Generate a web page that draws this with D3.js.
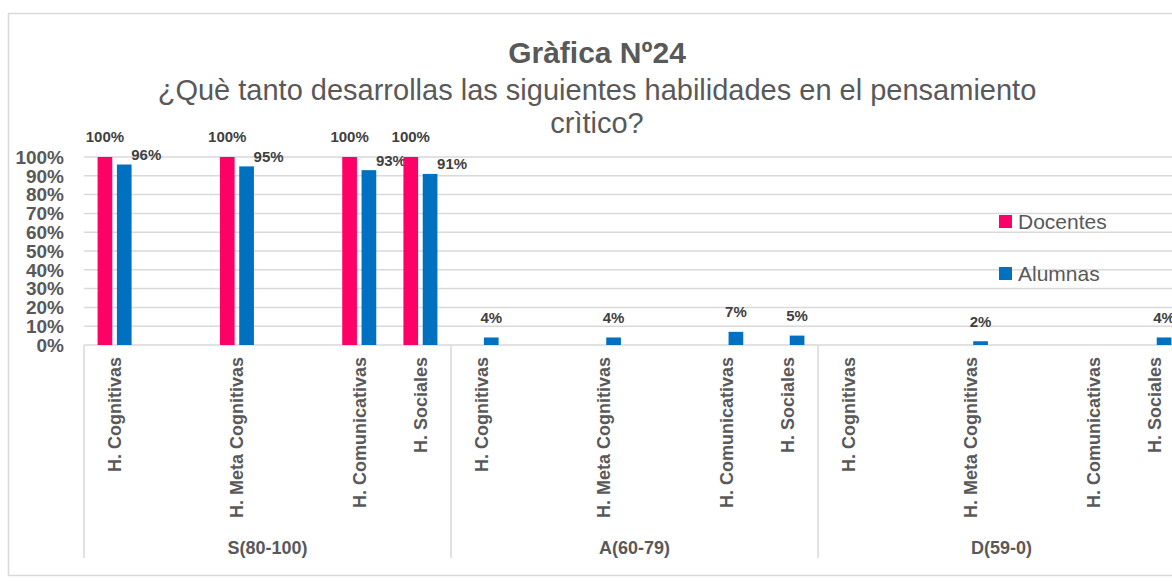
<!DOCTYPE html>
<html lang="es">
<head>
<meta charset="utf-8">
<title>Gràfica Nº24</title>
<script src="https://cdn.jsdelivr.net/npm/d3@7"></script>
<style>
  body { margin: 0; background: #fff; }
  text { font-family: "Liberation Sans", Arial, sans-serif; }
</style>
</head>
<body>
<div class="grafico"></div>
<script>
/*Datos de la gráfica*/
const grupos = ["S(80-100)", "A(60-79)", "D(59-0)"];
// "" = fila vacía en la tabla original (deja un hueco en el eje)
const habilidades = ["H. Cognitivas", "", "H. Meta Cognitivas", "", "H. Comunicativas", "H. Sociales"];
const series = ["Docentes", "Alumnas"];
const docentes = [1, 1, 1, 1, 0, 0, 0, 0, 0, 0, 0, 0];
const alumnas = [0.96, 0.95, 0.93, 0.91, 0.04, 0.04, 0.07, 0.05, 0, 0.02, 0, 0.04];
const yTicks = [0, 0.1, 0.2, 0.3, 0.4, 0.5, 0.6, 0.7, 0.8, 0.9, 1];

const titulo = "Gràfica Nº24";
const subtitulo = ["¿Què tanto desarrollas las siguientes habilidades en el pensamiento", "crìtico?"];

/*Medidas*/
const w = 1172;
const h = 582;
const mIzq = 84, mDer = 1185, yArriba = 157, yAbajo = 345;

const colores = ["#FF0066", "#0070C0"];
const gris = "#595959";
const linea = "#d9d9d9";

/*Filas: una por habilidad real*/
const filas = [];
let k = 0;
grupos.forEach((g, gi) => habilidades.forEach((hab, hi) => {
  if (hab === "") return;
  filas.push({ slot: `${gi}|${hi}`, grupo: g, habilidad: hab, Docentes: docentes[k], Alumnas: alumnas[k] });
  k++;
}));

const slots = grupos.flatMap((g, gi) => habilidades.map((hab, hi) => `${gi}|${hi}`));

/*Escalas*/
const x = d3.scaleBand().domain(slots).range([mIzq, mDer])
  .paddingInner(0.444).paddingOuter(0.222);
const xSerie = d3.scaleBand().domain(series).range([0, x.bandwidth()]).paddingInner(0.24);
const xGrupo = d3.scaleBand().domain(grupos).range([mIzq, mDer]);
const y = d3.scaleLinear().domain([0, 1]).range([yAbajo, yArriba]);
const color = d3.scaleOrdinal().domain(series).range(colores);
const pct = d3.format(".0%");

const svg = d3.select('.grafico')
  .append('svg')
  .attr('width', w)
  .attr('height', h)
  .style('display', 'block');

/*Marco*/
svg.append('rect')
  .attr('x', 8.5).attr('y', 13.5)
  .attr('width', 1200).attr('height', 562)
  .attr('fill', 'none')
  .attr('stroke', linea)
  .attr('stroke-width', 1.5);

/*Títulos*/
svg.append('text')
  .attr('x', 597).attr('y', 63)
  .attr('text-anchor', 'middle')
  .attr('font-size', 30).attr('font-weight', 'bold')
  .attr('fill', gris)
  .text(titulo);

svg.append('g').selectAll('text')
  .data(subtitulo)
  .join('text')
  .attr('x', 597)
  .attr('y', (d, i) => 100 + i * 33)
  .attr('text-anchor', 'middle')
  .attr('font-size', 29)
  .attr('fill', gris)
  .text(d => d);

/*Líneas de cuadrícula y eje Y*/
svg.append('g').selectAll('line')
  .data(yTicks)
  .join('line')
  .attr('x1', mIzq).attr('x2', mDer)
  .attr('y1', d => y(d)).attr('y2', d => y(d))
  .attr('stroke', linea)
  .attr('stroke-width', 1.5);

svg.append('g').selectAll('text')
  .data(yTicks)
  .join('text')
  .attr('x', 64)
  .attr('y', d => y(d))
  .attr('dy', '0.36em')
  .attr('text-anchor', 'end')
  .attr('font-size', 19).attr('font-weight', 'bold')
  .attr('fill', gris)
  .text(d => pct(d));

/*Barras*/
const barras = svg.append('g').selectAll('g')
  .data(filas)
  .join('g')
  .attr('transform', d => `translate(${x(d.slot)},0)`);

barras.selectAll('rect')
  .data(d => series.map(s => ({ serie: s, valor: d[s] })).filter(e => e.valor > 0))
  .join('rect')
  .attr('x', d => xSerie(d.serie))
  .attr('y', d => y(d.valor))
  .attr('width', xSerie.bandwidth())
  .attr('height', d => yAbajo - y(d.valor))
  .attr('fill', d => color(d.serie));

/*Etiquetas de datos (si chocan con la de Docentes, se corren a la derecha)*/
barras.selectAll('text')
  .data(d => series.map(s => ({ serie: s, valor: d[s], choca: s === "Alumnas" && d.Docentes > 0 }))
    .filter(e => e.valor > 0))
  .join('text')
  .attr('x', d => xSerie(d.serie) + xSerie.bandwidth() / 2 + (d.choca ? 22 : 0))
  .attr('y', d => y(d.valor) - (d.choca ? 10 : 20))
  .attr('dy', '0.36em')
  .attr('text-anchor', 'middle')
  .attr('font-size', 15).attr('font-weight', 'bold')
  .attr('fill', '#404040')
  .text(d => pct(d.valor));

/*Eje de categorías*/
svg.append('g').selectAll('text')
  .data(filas)
  .join('text')
  .attr('transform', d => `translate(${x(d.slot) + x.bandwidth() / 2},357) rotate(-90)`)
  .attr('dy', '0.36em')
  .attr('text-anchor', 'end')
  .attr('font-size', 18).attr('font-weight', 'bold')
  .attr('fill', gris)
  .text(d => d.habilidad);

const limites = grupos.map(g => xGrupo(g)).concat([xGrupo(grupos[grupos.length - 1]) + xGrupo.bandwidth()]);
svg.append('g').selectAll('line')
  .data(limites)
  .join('line')
  .attr('x1', d => d).attr('x2', d => d)
  .attr('y1', yAbajo).attr('y2', 558)
  .attr('stroke', linea)
  .attr('stroke-width', 1.5);

svg.append('g').selectAll('text')
  .data(grupos)
  .join('text')
  .attr('x', d => xGrupo(d) + xGrupo.bandwidth() / 2)
  .attr('y', 554)
  .attr('text-anchor', 'middle')
  .attr('font-size', 18).attr('font-weight', 'bold')
  .attr('fill', gris)
  .text(d => d);

/*Leyenda*/
const leyenda = svg.append('g')
  .selectAll('g')
  .data(series)
  .join('g')
  .attr('transform', (d, i) => `translate(999,${215 + i * 52})`);

leyenda.append('rect')
  .attr('width', 13).attr('height', 13)
  .attr('fill', d => color(d));

leyenda.append('text')
  .attr('x', 19).attr('y', 14)
  .attr('font-family', 'Lato, "Open Sans", sans-serif')
  .attr('font-size', 21)
  .attr('fill', gris)
  .text(d => d);
</script>
</body>
</html>
